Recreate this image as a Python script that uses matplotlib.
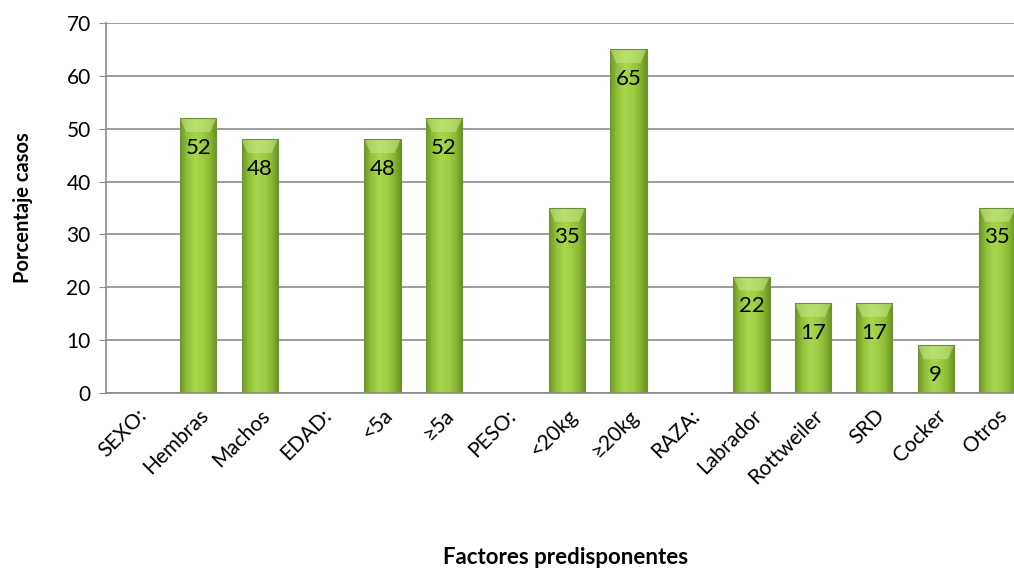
import numpy as np
import matplotlib.pyplot as plt
from matplotlib.colors import LinearSegmentedColormap
from matplotlib.patches import Rectangle, Polygon

# factores y porcentajes (None = encabezado de grupo, sin barra)
categorias = ['SEXO:', 'Hembras', 'Machos', 'EDAD:', '<5a', '≥5a', 'PESO:',
              '<20kg', '≥20kg', 'RAZA:', 'Labrador', 'Rottweiler', 'SRD',
              'Cocker', 'Otros']
porcentajes = [None, 52, 48, None, 48, 52, None, 35, 65, None, 22, 17, 17, 9, 35]

plt.rcParams['font.family'] = ['Lato', 'DejaVu Sans']

fig = plt.figure(figsize=(10.14, 5.73), dpi=100)
# el área del gráfico se sale un poco por la derecha
ax = fig.add_axes([106 / 1014, 1 - 393 / 573, 922 / 1014, 370 / 573])

x = np.arange(len(categorias))
ancho = 0.59
verde = LinearSegmentedColormap.from_list(
    'verde', ['#6f9626', '#92c23a', '#a8d64e', '#a0cf45', '#8bbb34', '#6a9122'])

ax.set_xlim(-0.5, len(categorias) - 0.5)
ax.set_ylim(0, 70)
ax.set_yticks(range(0, 71, 10))
ax.yaxis.grid(True, color='#8c8c8c', linewidth=1.2)
ax.set_axisbelow(True)

grad = np.linspace(0, 1, 64).reshape(1, -1)
for xi, v in zip(x, porcentajes):
    if v is None:
        continue
    x0, x1 = xi - ancho / 2, xi + ancho / 2
    barra = ax.bar(xi, v, width=ancho, color='none', edgecolor='none', zorder=2)[0]
    img = ax.imshow(grad, cmap=verde, extent=[x0, x1, 0, v], aspect='auto',
                    origin='lower', zorder=2)
    img.set_clip_path(barra)
    # bisel superior más claro
    ax.add_patch(Polygon([(x0, v), (x1, v), (x1 - 0.1, v - 2.6), (x0 + 0.1, v - 2.6)],
                         closed=True, facecolor='#c6e584', edgecolor='none',
                         alpha=0.6, zorder=3))
    ax.add_patch(Rectangle((x0, 0), ancho, v, facecolor='none',
                           edgecolor='#6f8f3a', linewidth=0.8, zorder=3))
    ax.annotate(str(v), (xi, v), xytext=(0, -14), textcoords='offset points',
                ha='center', va='top', fontsize=16, color='black', zorder=4)

ax.set_xticks(x)
ax.set_xticklabels(categorias, rotation=45, ha='right', rotation_mode='anchor',
                   fontsize=15)
ax.tick_params(axis='x', length=0, pad=9)
ax.tick_params(axis='y', length=5, color='#8c8c8c', labelsize=15, pad=6)

for lado in ['top', 'right']:
    ax.spines[lado].set_visible(False)
for lado in ['left', 'bottom']:
    ax.spines[lado].set_color('#8c8c8c')
    ax.spines[lado].set_linewidth(1.2)

ax.set_ylabel('Porcentaje casos', fontsize=14.5, fontweight='bold', labelpad=24)
fig.text(566 / 1014, 1 - 557 / 573, 'Factores predisponentes', ha='center',
         va='center', fontsize=16, fontweight='bold')

fig.savefig('out.png', dpi=100)
